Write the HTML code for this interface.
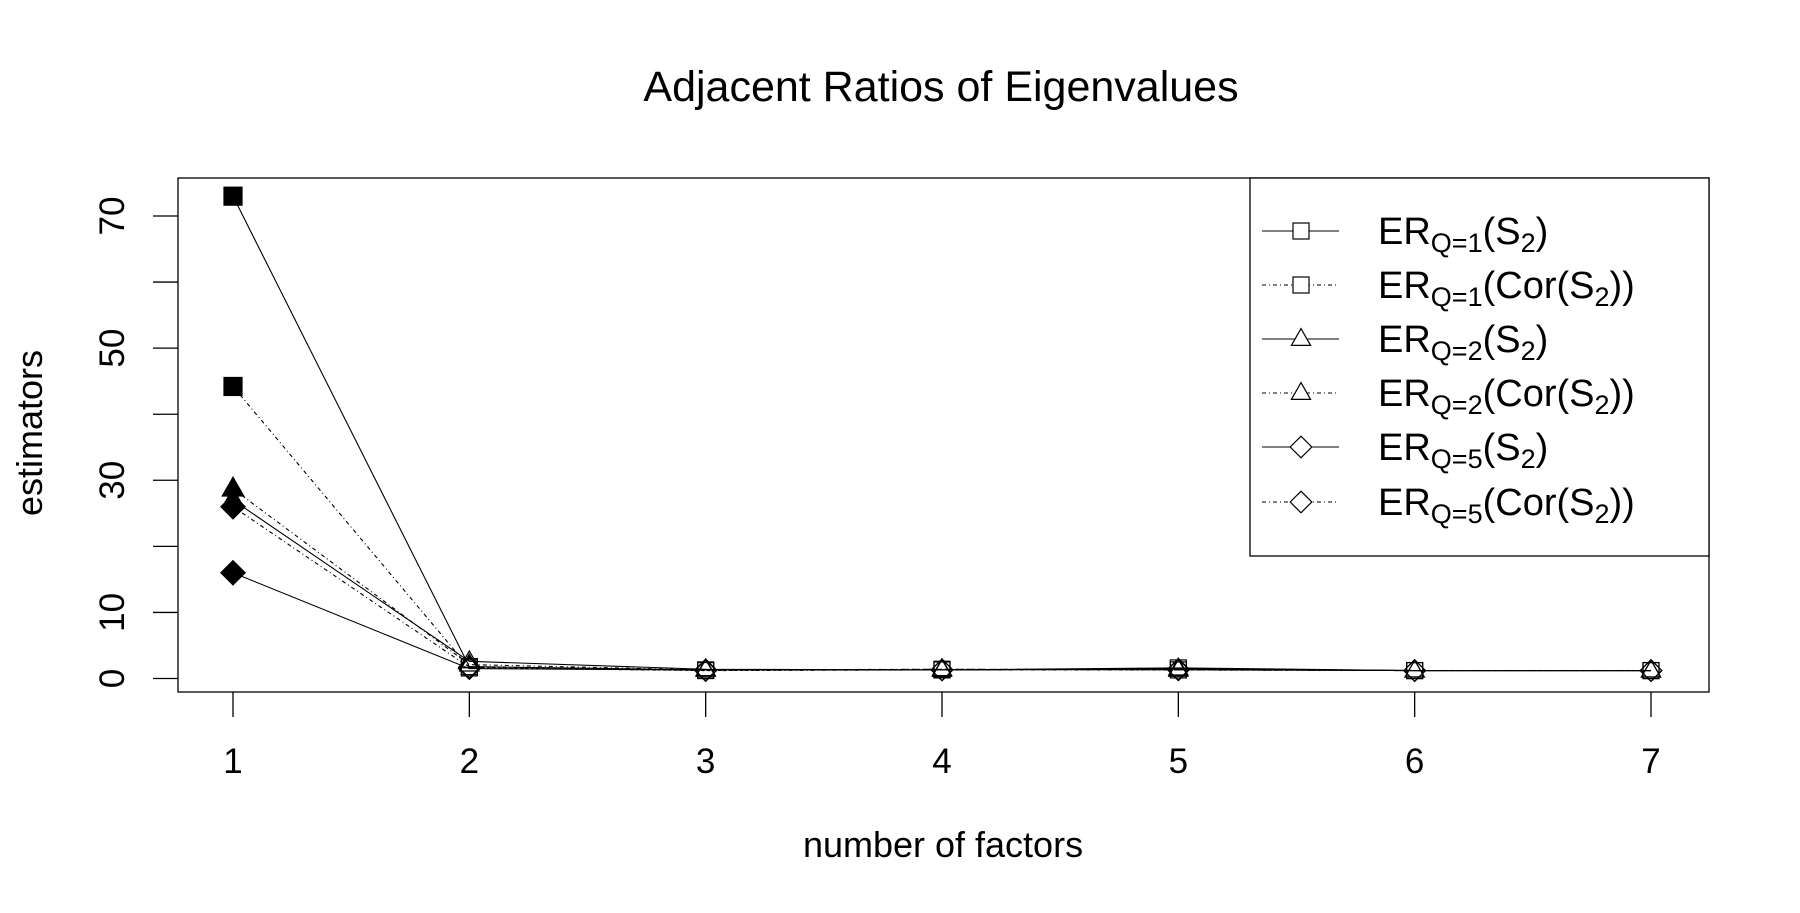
<!DOCTYPE html>
<html><head><meta charset="utf-8"><style>
html,body{margin:0;padding:0;background:#fff;}
svg{display:block;font-family:"Liberation Sans",Arial,sans-serif;}
</style></head><body>
<svg id="chart" width="1800" height="913" viewBox="0 0 1800 913">
<text x="941" y="101" font-size="43" text-anchor="middle">Adjacent Ratios of Eigenvalues</text>
<rect x="178" y="178" width="1531" height="514" fill="none" stroke="#000" stroke-width="1.3"/>
<g id="axes"></g>
<g id="series"></g>
<text x="943" y="857" font-size="36" text-anchor="middle">number of factors</text>
<text transform="translate(42,433) rotate(-90)" font-size="36" text-anchor="middle">estimators</text>
<g>
<rect x="1250" y="178" width="459" height="378" fill="#fff" stroke="#000" stroke-width="1.3"/>
<g id="legend"></g>
</g>
</svg>
<script>
const xCats = [1,2,3,4,5,6,7];
const yTicks = [0,10,20,30,40,50,60,70];
const yTickLabels = ["0","10","","30","","50","","70"];
const s1 = [73, 1.8, 1.3, 1.3, 1.6, 1.2, 1.2];
const s2 = [44.2, 1.6, 1.2, 1.4, 1.3, 1.2, 1.2];
const s3 = [27, 2.6, 1.4, 1.3, 1.5, 1.2, 1.2];
const s4 = [28.7, 2.1, 1.3, 1.4, 1.3, 1.2, 1.2];
const s5 = [16, 1.5, 1.3, 1.3, 1.4, 1.2, 1.2];
const s6 = [26, 1.7, 1.2, 1.3, 1.3, 1.2, 1.2];
const seriesVals = [s1,s2,s3,s4,s5,s6];
const seriesNames = ["ER-q1-S2","ER-q1-cor-S2","ER-q2-S2","ER-q2-cor-S2","ER-q5-S2","ER-q5-cor-S2"];
const shapes = ["square","square","triangle","triangle","diamond","diamond"];
const dashed = [false,true,false,true,false,true];
const qs = ["1","1","2","2","5","5"];
const cor = [false,true,false,true,false,true];

const NS="http://www.w3.org/2000/svg";
const X = v => 233 + (v-1)*(1651-233)/6;
const Y = v => 678.5 - v*(678.5-216)/70;
function mk(tag, attrs, parent){const e=document.createElementNS(NS,tag);for(const k in attrs)e.setAttribute(k,attrs[k]);parent.appendChild(e);return e;}
const axes=document.getElementById('axes');
xCats.forEach(c=>{
  const t=mk('line',{x1:X(c),x2:X(c),y1:692,y2:717,stroke:'#000','stroke-width':1.3},axes);
  
  
  const l=mk('text',{x:X(c),y:773,'font-size':35,'text-anchor':'middle'},axes);
  l.textContent=c;
  
  
});
yTicks.forEach((v,i)=>{
  const t=mk('line',{x1:153,x2:178,y1:Y(v),y2:Y(v),stroke:'#000','stroke-width':1.3},axes);
  
  
  if(yTickLabels[i]){
    const l=mk('text',{'font-size':35,'text-anchor':'middle',transform:`translate(124,${Y(v)}) rotate(-90)`},axes);
    l.textContent=yTickLabels[i];
    
    
  }
});
function marker(shape,cx,cy,fill,size,parent){
  let e;
  if(shape==='square') e=mk('rect',{x:cx-size,y:cy-size,width:2*size,height:2*size},parent);
  else if(shape==='triangle') e=mk('polygon',{points:`${cx},${cy-size*1.3} ${cx-size*1.2},${cy+size*0.8} ${cx+size*1.2},${cy+size*0.8}`},parent);
  else e=mk('polygon',{points:`${cx},${cy-size*1.35} ${cx+size*1.35},${cy} ${cx},${cy+size*1.35} ${cx-size*1.35},${cy}`},parent);
  e.setAttribute('fill',fill);e.setAttribute('stroke','#000');e.setAttribute('stroke-width',1.2);
  return e;
}
const sg=document.getElementById('series');
seriesVals.forEach((vals,si)=>{
  const g=mk('g',{},sg);
  
  
  const pts=vals.map((v,i)=>X(xCats[i])+','+Y(v)).join(' ');
  const pl=mk('polyline',{points:pts,fill:'none',stroke:'#000','stroke-width':1.1},g);
  if(dashed[si]) pl.setAttribute('stroke-dasharray','4 3 1 3');
  
  
  vals.forEach((v,i)=>{
    const m=marker(shapes[si],X(xCats[i]),Y(v),i===0?'#000':'none',i===0?9:8,g);
    
    
  });
});
const lg=document.getElementById('legend');
const rowY=[231,285,339,393,447,502];
seriesNames.forEach((n,i)=>{
  const g=mk('g',{},lg);
  
  
  const ln=mk('line',{x1:1262,x2:1339,y1:rowY[i],y2:rowY[i],stroke:'#000','stroke-width':1.1},g);
  if(dashed[i]) ln.setAttribute('stroke-dasharray','4 3 1 3');
  marker(shapes[i],1301,rowY[i],'#fff',8,g);
  const t=mk('text',{x:1378,y:rowY[i]+13,'font-size':38},g);
  const a=(s,dy,fs)=>{const ts=mk('tspan',{},t);if(dy)ts.setAttribute('dy',dy);if(fs)ts.setAttribute('font-size',fs);ts.textContent=s;};
  a('ER');a('Q='+qs[i],8,27);
  if(cor[i]){a('(Cor(S',-8);a('2',8,27);a('))',-8);}
  else {a('(S',-8);a('2',8,27);a(')',-8);}
});
</script>
</body></html>
